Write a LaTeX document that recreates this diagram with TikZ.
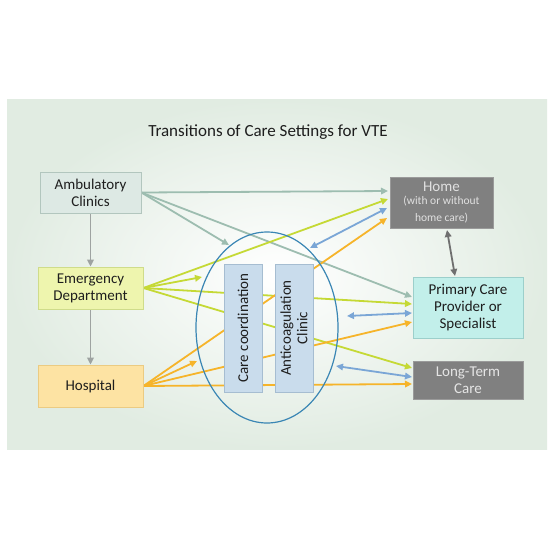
\documentclass[tikz,border=0pt]{standalone}
\usepackage{fontspec}
\setmainfont{Carlito}
\usetikzlibrary{arrows.meta,shapes.geometric}
\pgfdeclarelayer{panel}
\pgfdeclarelayer{lines}
\pgfsetlayers{panel,lines,main}
\definecolor{panelc}{HTML}{E1ECE2}
\definecolor{ambf}{HTML}{DDE9E4}
\definecolor{ambd}{HTML}{B2C6BE}
\definecolor{edf}{HTML}{EEF5AE}
\definecolor{edd}{HTML}{CFDC8A}
\definecolor{hof}{HTML}{FDE3A3}
\definecolor{hod}{HTML}{EBCB82}
\definecolor{grayf}{HTML}{808080}
\definecolor{grayd}{HTML}{9A9A9A}
\definecolor{pcpf}{HTML}{C2EFEA}
\definecolor{pcpd}{HTML}{9CCFCB}
\definecolor{blf}{HTML}{C9DCEC}
\definecolor{bld}{HTML}{A6BDD1}
\definecolor{ellc}{HTML}{3A86B4}
\definecolor{cG}{HTML}{9DBDB0}
\definecolor{cK}{HTML}{9EA3A1}
\definecolor{cY}{HTML}{C5D935}
\definecolor{cO}{HTML}{F6B42A}
\definecolor{cB}{HTML}{7AA6D6}
\definecolor{cD}{HTML}{6F6F6F}
\definecolor{txt}{HTML}{1E1E1E}
\tikzset{
  box/.style={draw, line width=0.8pt, minimum width=#1, align=center, inner sep=0pt, text=txt,
    font=\fontsize{15}{17}\selectfont},
  vbox/.style={draw=bld, fill=blf, line width=0.8pt, minimum width=128pt, minimum height=38pt,
    rotate=90, align=center, inner sep=0pt, text=txt, font=\fontsize{15}{16.5}\selectfont},
  conn/.style={line width=1.8pt, -{Triangle[length=7pt,width=6.5pt]}},
  dconn/.style={line width=1.8pt, {Triangle[length=7pt,width=6.5pt]}-{Triangle[length=7pt,width=6.5pt]}}
}
\begin{document}
\begin{tikzpicture}[x=1pt,y=-1pt]
\useasboundingbox (0,0) rectangle (552,550);
\begin{pgfonlayer}{panel}
\fill[white] (0,0) rectangle (552,550);
\shade[inner color=white, outer color=panelc] (7,99) rectangle (547,449);
\end{pgfonlayer}
\node[font=\fontsize{17}{19}\selectfont, text=txt] (title) at (268,132) {Transitions of Care Settings for VTE};
\node[box=101pt, minimum height=41pt, fill=ambf, draw=ambd] (amb) at (90.5,192.5) {Ambulatory\\Clinics};
\node[box=105pt, minimum height=42pt, fill=edf, draw=edd] (ed) at (90.5,288) {Emergency\\Department};
\node[box=105pt, minimum height=42pt, fill=hof, draw=hod] (hosp) at (90.5,386) {Hospital};
\node[box=103pt, minimum height=51pt, fill=grayf, draw=grayd, text=white!88!black] (home) at (441.5,202.5)
  {Home\\[-4.5pt]\fontsize{11.5}{13}\selectfont (with or without\\\fontsize{11.5}{13}\selectfont home care)};
\node[box=110pt, minimum height=61pt, fill=pcpf, draw=pcpd] (pcp) at (468,307.5) {Primary Care\\Provider or\\Specialist};
\node[box=110pt, minimum height=38pt, fill=grayf, draw=grayd, text=white!90!black] (ltc) at (468,380) {Long-Term\\Care};
\node[vbox] (cc) at (243,328) {Care coordination};
\node[vbox] (ac) at (294,328) {Anticoagulation\\Clinic};
\node[draw=ellc, line width=1.2pt, ellipse, minimum width=142pt, minimum height=191pt, inner sep=0pt] (ell) at (267,327.5) {};
% endpoints
\coordinate (h1) at (388,191);
\coordinate (h2) at (388,199);
\coordinate (h3) at (387,208);
\coordinate (h4) at (387,218);
\coordinate (e1) at (229,245);
\coordinate (e2) at (202,277);
\coordinate (e3) at (197,361);
\coordinate (e4) at (310,248);
\coordinate (e5) at (347,316);
\coordinate (e6) at (336,366);
\coordinate (p1) at (412,297);
\coordinate (p2) at (412,304);
\coordinate (p3) at (412,313);
\coordinate (p4) at (412,322);
\coordinate (l1) at (412,368);
\coordinate (l2) at (412,377);
\coordinate (l3) at (412,384);
\coordinate (hb) at (447,230);
\coordinate (pt) at (455,276);
\begin{pgfonlayer}{lines}
\draw[conn, cG] (amb.east) -- (h1);
\draw[conn, cG] (amb.east) -- (e1);
\draw[conn, cG] (amb.east) -- (p1);
\draw[conn, cK] (amb.south) -- (ed.north);
\draw[conn, cK] (ed.south) -- (hosp.north);
\draw[conn, cY] (ed.east) -- (h2);
\draw[conn, cY] (ed.east) -- (e2);
\draw[conn, cY] (ed.east) -- (p2);
\draw[conn, cY] (ed.east) -- (l1);
\draw[conn, cO] (hosp.east) -- (h4);
\draw[conn, cO] (hosp.east) -- (e3);
\draw[conn, cO] (hosp.east) -- (p4);
\draw[conn, cO] (hosp.east) -- (l3);
\draw[dconn, cB] (e4) -- (h3);
\draw[dconn, cB] (e5) -- (p3);
\draw[dconn, cB] (e6) -- (l2);
\draw[dconn, cD] (hb) -- (pt);
\end{pgfonlayer}
\end{tikzpicture}
\end{document}
